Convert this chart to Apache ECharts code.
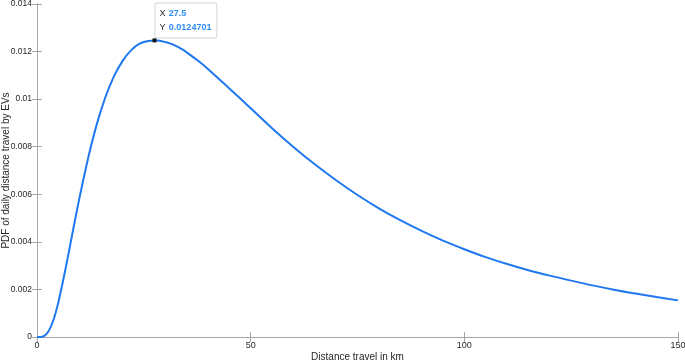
<!DOCTYPE html>
<html>
<head>
<meta charset="utf-8">
<script src="https://cdn.jsdelivr.net/npm/echarts@6/dist/echarts.min.js"></script>
<style>
  html, body { margin: 0; padding: 0; background: #fff; }
  #chart { width: 685px; height: 364px; }
</style>
</head>
<body>
<div id="chart"></div>
<script>
// distance (km) and PDF values
var distKm = [0, 1, 2, 3, 4, 5, 6, 7, 8, 9, 10, 12, 14, 16, 18, 20, 22, 24, 26, 28, 30,
  32, 34, 36, 38, 40, 45, 50, 55, 60, 65, 70, 75, 80, 85, 90, 95, 100,
  105, 110, 115, 120, 125, 130, 135, 140, 145, 150];
var pdfVals = [0, 0.000004, 0.00008, 0.00034, 0.00080, 0.00146, 0.00228, 0.00316, 0.00409, 0.00501,
  0.00590, 0.00755, 0.00895, 0.01008, 0.01096, 0.01160, 0.01205, 0.01233, 0.01244, 0.01247, 0.01240,
  0.01228, 0.01209, 0.01184, 0.01157, 0.01127, 0.01045, 0.00962, 0.00878, 0.00799, 0.00726,
  0.00659, 0.00597, 0.00541, 0.00491, 0.00446, 0.00405, 0.00369,
  0.00336, 0.00307, 0.00281, 0.00258, 0.00237, 0.00217, 0.00199, 0.00183, 0.00168, 0.00154];
var peak = [27.5, 0.0124701];
var xTicks = { min: 0, max: 150, interval: 50 };
var yTicks = { min: 0, max: 0.014, interval: 0.002 };

var axisGray = '#a6a6a6';
var textDark = '#262626';
var font = 'Liberation Sans, Arial, Helvetica, sans-serif';

var points = distKm.map(function (d, i) { return [d, pdfVals[i]]; });

var chart = echarts.init(document.getElementById('chart'));

function boxAxis(extra) {
  return Object.assign({
    type: 'value',
    axisLine: { show: true, lineStyle: { color: axisGray, width: 1 } },
    axisTick: { show: true, inside: true, length: 5, lineStyle: { color: axisGray } },
    splitLine: { show: false }
  }, extra);
}

chart.setOption({
  animation: false,
  grid: { left: 37, right: 7, top: 4, bottom: 27, outerBoundsMode: 'none', containLabel: false },
  xAxis: [
    boxAxis({
      min: xTicks.min, max: xTicks.max, interval: xTicks.interval,
      position: 'bottom',
      name: 'Distance travel in km',
      nameLocation: 'middle',
      nameGap: 15,
      nameMoveOverlap: false,
      nameTextStyle: { color: textDark, fontSize: 10, fontFamily: font },
      axisLabel: { color: textDark, fontSize: 9, fontFamily: font, margin: 4 }
    }),
    boxAxis({
      min: xTicks.min, max: xTicks.max, interval: xTicks.interval,
      position: 'top',
      axisLabel: { show: false }
    })
  ],
  yAxis: [
    boxAxis({
      min: yTicks.min, max: yTicks.max, interval: yTicks.interval,
      position: 'left',
      name: 'PDF of daily distance travel by EVs',
      nameLocation: 'middle',
      nameGap: 26,
      nameMoveOverlap: false,
      nameTextStyle: { color: textDark, fontSize: 10, fontFamily: font },
      axisLabel: { color: textDark, fontSize: 8.5, fontFamily: font, margin: 5 }
    }),
    boxAxis({
      min: yTicks.min, max: yTicks.max, interval: yTicks.interval,
      position: 'right',
      axisLabel: { show: false }
    })
  ],
  series: [{
    type: 'line',
    data: points,
    smooth: 0.3,
    showSymbol: false,
    lineStyle: { color: '#1f78f0', width: 2 },
    markPoint: {
      symbol: 'rect',
      symbolSize: 4,
      itemStyle: { color: '#111' },
      data: [{
        coord: peak,
        label: {
          show: true,
          position: [3, -35],
          align: 'left',
          verticalAlign: 'top',
          backgroundColor: '#fff',
          borderColor: '#cfd4da',
          borderWidth: 1,
          borderRadius: 2,
          padding: [3, 5, 3, 4],
          lineHeight: 14,
          fontFamily: font,
          formatter: '{k|X} {v|' + peak[0] + '}\n{k|Y} {v|' + peak[1] + '}',
          rich: {
            k: { color: textDark, fontSize: 9, fontFamily: font, lineHeight: 14 },
            v: { color: '#2f8cf5', fontSize: 9, fontWeight: 'bold', fontFamily: font, lineHeight: 14 }
          }
        }
      }]
    }
  }]
});
</script>
</body>
</html>
